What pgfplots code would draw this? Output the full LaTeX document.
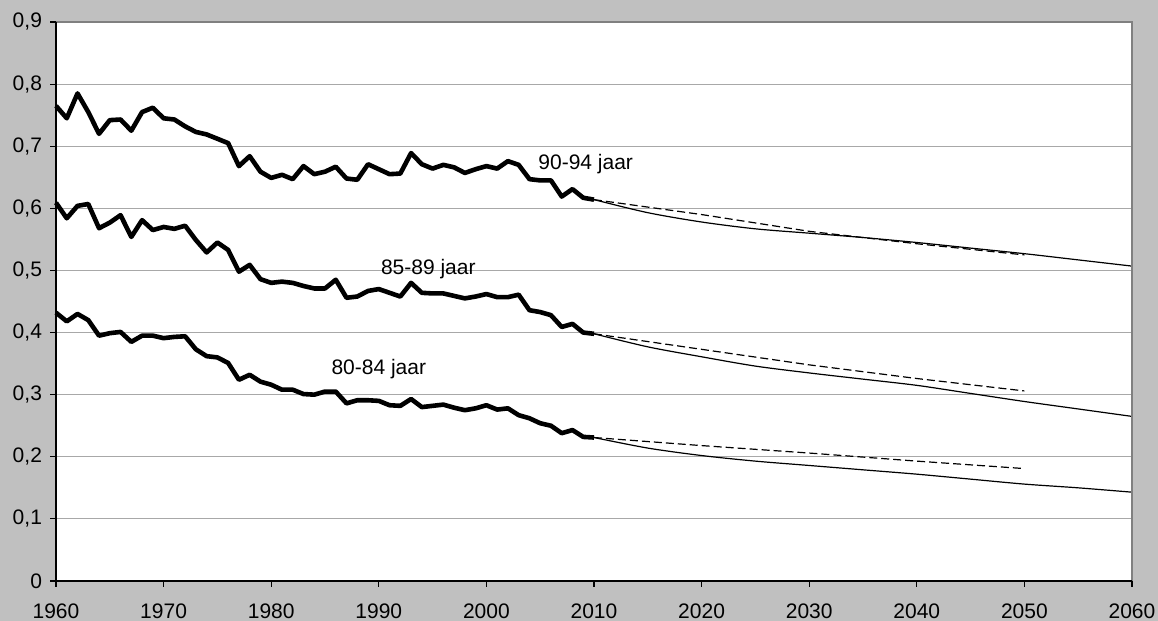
\documentclass[border=0pt]{standalone}
\usepackage{fontspec}
\setmainfont{Liberation Sans}
\usepackage{pgfplots}
\pgfplotsset{compat=1.18}

\definecolor{bgGray}{HTML}{C0C0C0}
\definecolor{gridGray}{HTML}{A8A8A8}
\definecolor{frameGray}{HTML}{808080}

\begin{document}
\begin{tikzpicture}
% grey chart area
\fill[bgGray] (-28pt,-20pt) rectangle (551pt,290.5pt);
\begin{axis}[
  at={(0,0)}, anchor=south west,
  scale only axis,
  width=538pt, height=279.5pt,
  xmin=1960, xmax=2060, ymin=0, ymax=0.9,
  xtick={1960,1970,...,2060},
  ytick={0,0.1,...,0.9},
  axis lines=left,
  axis line style={-, black, line width=0.8pt},
  tick align=outside,
  major tick length=3pt,
  tick style={black, line width=0.6pt},
  ymajorgrids,
  grid style={gridGray, line width=0.5pt},
  axis background/.style={fill=white},
  font=\fontsize{10.5}{12}\selectfont,
  /pgf/number format/assume math mode=true,
  x tick label style={/pgf/number format/1000 sep={}, yshift=-5pt},
  y tick label style={/pgf/number format/use comma,
                      /pgf/number format/fixed,
                      /pgf/number format/precision=1,
                      xshift=-0.5pt},
  clip=false,
]

% --- observed, 90-94 jaar
\addplot[black, line width=2.3pt, line join=round] coordinates {
(1960,0.765)(1961,0.745)(1962,0.785)(1963,0.755)(1964,0.720)
(1965,0.742)(1966,0.743)(1967,0.725)(1968,0.755)(1969,0.762)
(1970,0.745)(1971,0.743)(1972,0.732)(1973,0.723)(1974,0.719)
(1975,0.712)(1976,0.705)(1977,0.668)(1978,0.684)(1979,0.659)
(1980,0.649)(1981,0.654)(1982,0.647)(1983,0.668)(1984,0.655)
(1985,0.659)(1986,0.667)(1987,0.648)(1988,0.646)(1989,0.671)
(1990,0.663)(1991,0.655)(1992,0.656)(1993,0.689)(1994,0.671)
(1995,0.664)(1996,0.670)(1997,0.666)(1998,0.657)(1999,0.663)
(2000,0.668)(2001,0.664)(2002,0.676)(2003,0.670)(2004,0.647)
(2005,0.645)(2006,0.645)(2007,0.619)(2008,0.631)(2009,0.617)
(2010,0.614)};

% --- observed, 85-89 jaar
\addplot[black, line width=2.3pt, line join=round] coordinates {
(1960,0.609)(1961,0.584)(1962,0.604)(1963,0.607)(1964,0.568)
(1965,0.577)(1966,0.589)(1967,0.554)(1968,0.581)(1969,0.565)
(1970,0.570)(1971,0.567)(1972,0.572)(1973,0.549)(1974,0.529)
(1975,0.545)(1976,0.533)(1977,0.498)(1978,0.509)(1979,0.486)
(1980,0.480)(1981,0.482)(1982,0.480)(1983,0.475)(1984,0.471)
(1985,0.471)(1986,0.485)(1987,0.456)(1988,0.458)(1989,0.467)
(1990,0.470)(1991,0.464)(1992,0.458)(1993,0.480)(1994,0.464)
(1995,0.463)(1996,0.463)(1997,0.459)(1998,0.455)(1999,0.458)
(2000,0.462)(2001,0.457)(2002,0.457)(2003,0.461)(2004,0.436)
(2005,0.433)(2006,0.428)(2007,0.409)(2008,0.414)(2009,0.400)
(2010,0.398)};

% --- observed, 80-84 jaar
\addplot[black, line width=2.3pt, line join=round] coordinates {
(1960,0.432)(1961,0.418)(1962,0.430)(1963,0.420)(1964,0.395)
(1965,0.399)(1966,0.401)(1967,0.385)(1968,0.395)(1969,0.395)
(1970,0.391)(1971,0.393)(1972,0.394)(1973,0.373)(1974,0.362)
(1975,0.360)(1976,0.351)(1977,0.324)(1978,0.332)(1979,0.321)
(1980,0.316)(1981,0.308)(1982,0.308)(1983,0.301)(1984,0.300)
(1985,0.305)(1986,0.305)(1987,0.286)(1988,0.291)(1989,0.291)
(1990,0.290)(1991,0.283)(1992,0.282)(1993,0.293)(1994,0.280)
(1995,0.282)(1996,0.284)(1997,0.279)(1998,0.275)(1999,0.278)
(2000,0.283)(2001,0.276)(2002,0.278)(2003,0.267)(2004,0.262)
(2005,0.254)(2006,0.250)(2007,0.238)(2008,0.243)(2009,0.232)
(2010,0.231)};

% --- projections (solid) to 2060
\addplot[black, line width=0.6pt, smooth] coordinates {
(2010,0.614)(2015,0.593)(2020,0.578)(2025,0.567)(2030,0.560)
(2035,0.553)(2040,0.545)(2045,0.536)(2050,0.527)(2055,0.517)(2060,0.507)};
\addplot[black, line width=0.6pt, smooth] coordinates {
(2010,0.398)(2015,0.377)(2020,0.361)(2025,0.346)(2030,0.335)
(2035,0.325)(2040,0.315)(2045,0.302)(2050,0.289)(2055,0.277)(2060,0.265)};
\addplot[black, line width=0.6pt, smooth] coordinates {
(2010,0.231)(2015,0.214)(2020,0.202)(2025,0.193)(2030,0.186)
(2035,0.179)(2040,0.172)(2045,0.164)(2050,0.156)(2055,0.150)(2060,0.143)};

% --- alternative projections (dashed) to 2050
\addplot[black, line width=0.6pt, dash pattern=on 4pt off 2pt] coordinates {
(2010,0.614)(2020,0.590)(2030,0.563)(2040,0.543)(2050,0.525)};
\addplot[black, line width=0.6pt, dash pattern=on 4pt off 2pt] coordinates {
(2010,0.398)(2020,0.373)(2030,0.348)(2040,0.326)(2050,0.306)};
\addplot[black, line width=0.6pt, dash pattern=on 4pt off 2pt] coordinates {
(2010,0.231)(2020,0.218)(2030,0.206)(2040,0.193)(2050,0.181)};

% series labels
\node[anchor=west, inner sep=0pt] at (axis cs:2004.8,0.671) {90-94 jaar};
\node[inner sep=0pt] at (axis cs:1994.6,0.503) {85-89 jaar};
\node[inner sep=0pt] at (axis cs:1990.0,0.341) {80-84 jaar};

% top and right frame of the plot area
\draw[frameGray, line width=1pt] (rel axis cs:0,1) -- (rel axis cs:1,1) -- (rel axis cs:1,0);
\draw[black, line width=0.8pt] (rel axis cs:0,1) -- (rel axis cs:0,0) -- (rel axis cs:1,0);
\end{axis}
\pgfresetboundingbox
\path[use as bounding box] (-28pt,-20pt) rectangle (551pt,290.5pt);
\end{tikzpicture}
\end{document}
